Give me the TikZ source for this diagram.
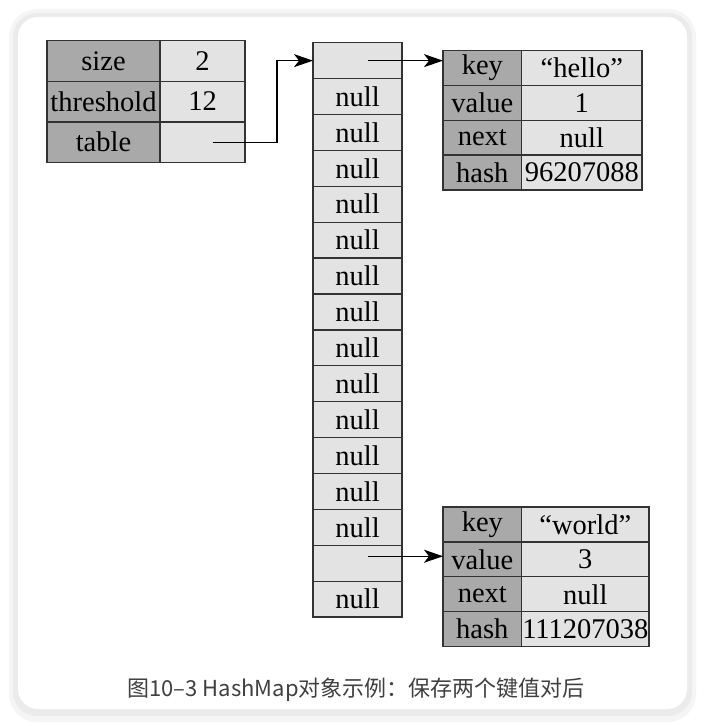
\documentclass[tikz,border=0pt]{standalone}
\usepackage{fontspec}
\setmainfont{Liberation Serif}
\newfontfamily\cjkfont{Noto Sans CJK SC}
\usetikzlibrary{arrows.meta}
\definecolor{cellDark}{HTML}{A9A9A9}
\definecolor{cellLight}{HTML}{E3E3E3}

\begin{document}
\begin{tikzpicture}[x=1pt, y=-1pt, line width=1.3pt,
  ref/.style={-{Stealth[length=19pt, width=13pt, inset=5pt]}},
  cell/.style={draw=black!80, fill=cellLight, anchor=north west, inner sep=0pt, outer sep=0pt,
    font=\fontsize{28.5}{30}\selectfont},
  keycell/.style={cell, fill=cellDark}]
  % card and shadow
  \fill[white] (0,0) rectangle (704,727);
  \fill[black!4, rounded corners=28pt] (9,9) rectangle (696,722);
  \fill[black!8, rounded corners=24pt] (13,13) rectangle (692,716);
  \fill[white, rounded corners=20pt] (18,17) rectangle (687,709);
  % HashMap object
  \foreach \k/\v [count=\i from 0] in {size/2, threshold/12, table/{}} {
    \node[keycell, minimum width=113pt, minimum height=40.7pt] (lk\i) at (47,{40.5+40.7*\i}) {\k};
    \node[cell, minimum width=85pt, minimum height=40.7pt] (lv\i) at (160,{40.5+40.7*\i}) {\v};
  }
  % table array, 16 buckets
  \foreach \t [count=\i from 0] in {{},null,null,null,null,null,null,null,null,null,null,null,null,null,{},null} {
    \node[cell, minimum width=89pt, minimum height=35.9pt] (arr\i) at (313,{42.7+35.9*\i}) {\t};
  }
  % entry "hello"
  \foreach \k/\v [count=\i from 0] in {key/“hello”, value/1, next/null, hash/96207088} {
    \node[keycell, minimum width=78.7pt, minimum height=34.8pt] (hk\i) at (443,{50.7+34.8*\i}) {\k};
    \node[cell, minimum width=120.3pt, minimum height=34.8pt] (hv\i) at (521.7,{50.7+34.8*\i}) {\v};
  }
  % entry "world"
  \foreach \k/\v [count=\i from 0] in {key/“world”, value/3, next/null, hash/111207038} {
    \node[keycell, minimum width=78.7pt, minimum height=34.9pt] (wk\i) at (443,{507+34.9*\i}) {\k};
    \node[cell, minimum width=127.3pt, minimum height=34.9pt] (wv\i) at (521.7,{507+34.9*\i}) {\v};
  }
  % references
  \draw[ref] ([xshift=10pt]lv2.center) -| ([xshift=-36pt]arr0.west) -- (arr0.west);
  \draw[ref] ([xshift=10pt]arr0.center) -- (arr0.center -| hk0.west);
  \draw[ref] ([xshift=10pt,yshift=7pt]arr14.center) -- ([yshift=7pt]arr14.center -| wk1.west);
  % caption
  \node[font=\cjkfont\fontsize{22}{25}\selectfont, text=black!75] (caption) at (356,690)
    {图10–3 HashMap对象示例：保存两个键值对后};
\end{tikzpicture}
\end{document}
